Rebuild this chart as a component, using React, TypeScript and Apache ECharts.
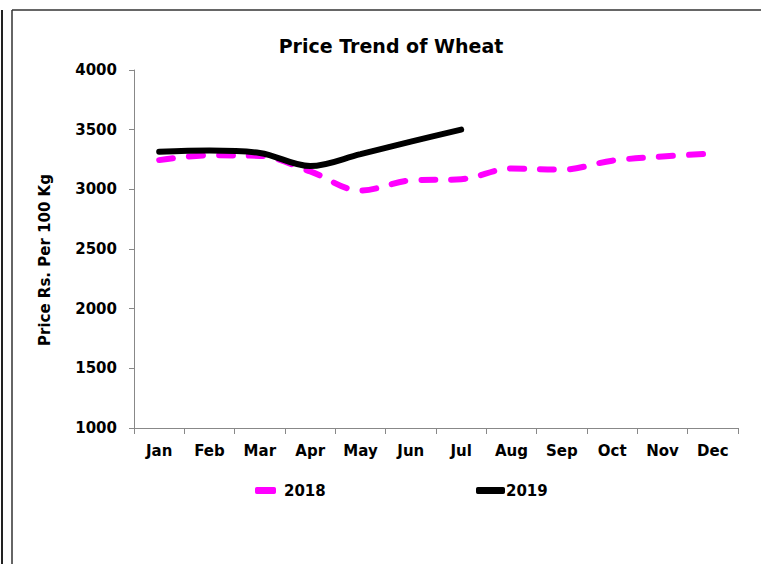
import React, { useEffect, useRef } from "react";
import * as echarts from "echarts";

const months = ["Jan", "Feb", "Mar", "Apr", "May", "Jun", "Jul", "Aug", "Sep", "Oct", "Nov", "Dec"];
const price2018 = [3245, 3285, 3280, 3150, 2990, 3075, 3085, 3175, 3165, 3240, 3275, 3300];
const price2019 = [3315, 3325, 3305, 3195, 3295, 3400, 3500];
const yTicks = { min: 1000, max: 4000, interval: 500 };

const FONT = "DejaVu Sans";

export default function App() {
  const ref = useRef<HTMLDivElement>(null);
  useEffect(() => {
    if (!ref.current) return;
    const chart = echarts.init(ref.current, null, { renderer: "svg" });
    chart.setOption({
      animation: false,
      backgroundColor: "#fff",
      title: {
        text: "Price Trend of Wheat",
        left: 386,
        textAlign: "center",
        top: 31,
        textStyle: { fontFamily: FONT, fontWeight: "bold", fontSize: 19, color: "#000" },
      },
      grid: { left: 134, right: 23, top: 70, bottom: 136 },
      legend: [
        {
          data: ["2018"],
          left: 250,
          top: 478,
          icon: "roundRect",
          itemWidth: 21,
          itemHeight: 7,
          textStyle: { fontFamily: FONT, fontWeight: "bold", fontSize: 15, color: "#000", padding: [0, 0, 0, 3] },
        },
        {
          data: ["2019"],
          left: 471,
          top: 478,
          icon: "roundRect",
          itemWidth: 29,
          itemHeight: 7,
          textStyle: { fontFamily: FONT, fontWeight: "bold", fontSize: 15, color: "#000", padding: [0, 0, 0, -4] },
        },
      ],
      xAxis: {
        type: "category",
        data: months,
        boundaryGap: true,
        axisLine: { lineStyle: { color: "#888", width: 1 } },
        axisTick: { show: true, length: 6, alignWithLabel: false, lineStyle: { color: "#888" } },
        axisLabel: { fontFamily: FONT, fontWeight: "bold", fontSize: 15, color: "#000", margin: 15 },
        splitLine: { show: false },
      },
      yAxis: {
        type: "value",
        min: yTicks.min,
        max: yTicks.max,
        interval: yTicks.interval,
        name: "Price Rs. Per 100 Kg",
        nameLocation: "middle",
        nameGap: 82,
        nameRotate: 90,
        nameTextStyle: {
          fontFamily: FONT,
          fontWeight: "bold",
          fontSize: 15,
          color: "#000",
          padding: [0, 22, 0, 0],
        },
        axisLine: { show: true, lineStyle: { color: "#888", width: 1 } },
        axisTick: { show: true, length: 5, lineStyle: { color: "#888" } },
        axisLabel: {
          fontFamily: FONT,
          fontWeight: "bold",
          fontSize: 15,
          color: "#000",
          margin: 17,
          formatter: (v: number) => String(v),
        },
        splitLine: { show: false },
      },
      series: [
        {
          name: "2018",
          type: "line",
          data: price2018,
          smooth: 0.35,
          showSymbol: false,
          symbol: "none",
          itemStyle: { color: "#ff00ff" },
          lineStyle: { color: "#ff00ff", width: 6, type: [14, 16], cap: "round" },
          z: 2,
        },
        {
          name: "2019",
          type: "line",
          data: price2019,
          smooth: 0.35,
          showSymbol: false,
          symbol: "none",
          itemStyle: { color: "#000" },
          lineStyle: { color: "#000", width: 6, cap: "round" },
          z: 3,
        },
      ],
      graphic: [
        { type: "line", shape: { x1: 2, y1: 10, x2: 2, y2: 564 }, style: { stroke: "#222", lineWidth: 2 } },
        { type: "line", shape: { x1: 12, y1: 10, x2: 12, y2: 564 }, style: { stroke: "#333", lineWidth: 1.5 } },
        { type: "line", shape: { x1: 12, y1: 10, x2: 761, y2: 10 }, style: { stroke: "#333", lineWidth: 1.5 } },
      ],
    });
    return () => chart.dispose();
  }, []);
  return (
    <div
      ref={ref}
      style={{ position: "fixed", left: 0, top: 0, width: 761, height: 564, background: "#fff" }}
    />
  );
}
